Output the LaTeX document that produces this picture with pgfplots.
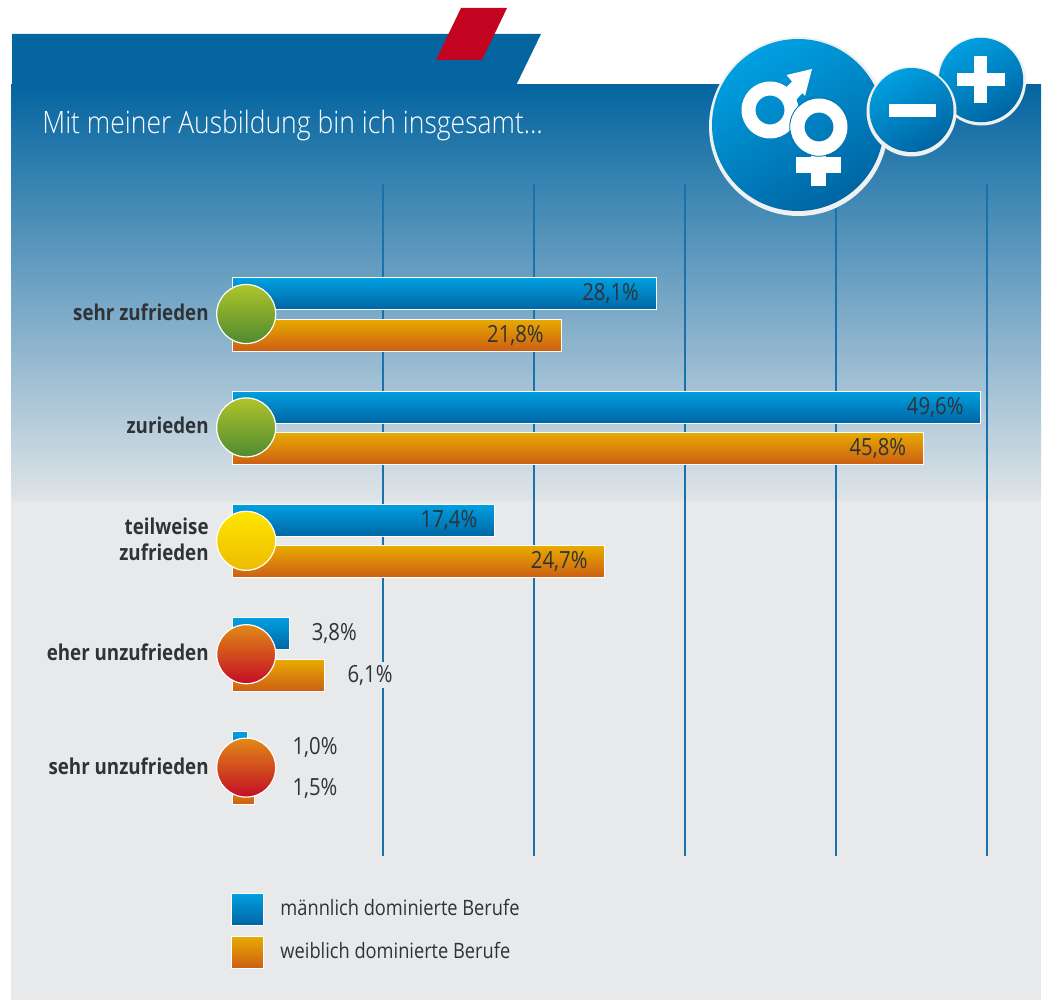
\documentclass[border=0pt]{standalone}
\usepackage{fontspec}
\usepackage{pgfplots}
\pgfplotsset{compat=1.18}
\setmainfont{Open Sans}[FakeStretch=0.86]
\newfontfamily\lightfont{Open Sans Light}[FakeStretch=0.86]
\definecolor{bgGray}{HTML}{E8E9EB}
\definecolor{hdr}{HTML}{0465A0}
\definecolor{bgLight}{HTML}{DFE4E8}
\definecolor{redTab}{HTML}{C20421}
\definecolor{gridB}{HTML}{1A72AC}
\definecolor{blueT}{HTML}{00A0E1}
\definecolor{blueB}{HTML}{0065A3}
\definecolor{oraT}{HTML}{E8AB00}
\definecolor{oraB}{HTML}{CC5E14}
\definecolor{greenT}{HTML}{AFC42A}
\definecolor{greenB}{HTML}{4F8A30}
\definecolor{yelT}{HTML}{FFE600}
\definecolor{yelB}{HTML}{EDBB00}
\definecolor{redT}{HTML}{E08A16}
\definecolor{redB}{HTML}{C30D26}
\definecolor{txt}{HTML}{2E3338}
\definecolor{rim}{HTML}{EFF0F0}
\begin{document}
\begin{tikzpicture}
\useasboundingbox (0,0) rectangle (522pt,-500pt);
\begin{scope}[x=0.5pt,y=-0.5pt]
% background
\fill[bgGray] (11,500) rectangle (1040.5,1000);
\shade[top color=hdr,bottom color=bgLight] (11,85) rectangle (1041,500);
\fill[hdr] (12,34) -- (541,34) -- (516,85.5) -- (12,85.5) -- cycle;
\fill[redTab] (461,8) -- (507,8) -- (482,60) -- (436,60) -- cycle;
% title
\node[anchor=base west,inner sep=0pt,text=white,font=\lightfont\fontsize{15.4}{18}\selectfont] at (42,134) {Mit meiner Ausbildung bin ich insgesamt…};
\end{scope}
% axis
\begin{axis}[
  at={(116pt,-428pt)},anchor=south west,
  scale only axis,width=377.5pt,height=336pt,
  xmin=0,xmax=50,ymin=-1.1464,ymax=4.7795,
  y dir=reverse,clip=false,
  axis line style={draw=none},
  major tick length=0pt,
  xtick={10,20,30,40,50},xticklabels={},
  xmajorgrids,grid style={gridB,line width=0.7pt},
  ytick={0,1,2,3,4},
  yticklabels={sehr zufrieden,zurieden,{teilweise\\zufrieden},eher unzufrieden,sehr unzufrieden},
  y tick label style={font=\bfseries\fontsize{10.9}{13}\selectfont,text=txt,align=right,anchor=east,inner sep=0pt,xshift=-11.5pt,yshift=0.8pt},
  legend style={at={(axis description cs:-0.0012,-0.054)},anchor=north west,draw=none,fill=none,inner sep=0pt,
    font=\fontsize{10.6}{12}\selectfont,text=txt,row sep=5pt,
    nodes={inner sep=0pt,anchor=west}},
  legend cell align=left,
  lbl/.style={nodes near coords={\pgfmathprintnumber[assume math mode=true,fixed,fixed zerofill,precision=1,use comma]{\pgfplotspointmeta}\%},
    point meta=x,
    every node near coord/.append style={font=\fontsize{11.8}{14}\selectfont,text=txt,inner sep=0pt}},
  bl/.style={xbar,bar width=16pt,bar shift=10.2pt,draw=white,line width=0.5pt,top color=blueT,bottom color=blueB,lbl,
    every node near coord/.append style={yshift=10.2pt}},
  or/.style={xbar,bar width=16pt,bar shift=-10.5pt,draw=white,line width=0.5pt,top color=oraT,bottom color=oraB,lbl,
    every node near coord/.append style={yshift=-10.5pt}},
  in/.style={every node near coord/.append style={anchor=east,xshift=-8.5pt}},
  out/.style={every node near coord/.append style={anchor=west,xshift=#1}},
  dot/.style n args={2}{forget plot,only marks,mark=none,point meta=x,nodes near coords={},
    every node near coord/.append style={circle,minimum size=29.5pt,inner sep=0pt,anchor=center,draw=white,line width=0.6pt,top color=#1,bottom color=#2}},
]
\addplot[bl,in,legend image code/.code={\path[draw=white,line width=0.5pt,top color=blueT,bottom color=blueB] (0pt,-8pt) rectangle (16pt,8pt);}]
 coordinates {(28.1,0)};
\addlegendentry{\hspace{8pt}männlich dominierte Berufe}
\addplot[or,in,legend image code/.code={\path[draw=white,line width=0.5pt,top color=oraT,bottom color=oraB] (0pt,-8pt) rectangle (16pt,8pt);}]
 coordinates {(21.8,0)};
\addlegendentry{\hspace{8pt}weiblich dominierte Berufe}
\addplot[forget plot,bl,in] coordinates {(49.6,1)};
\addplot[forget plot,or,in] coordinates {(45.8,1)};
\addplot[forget plot,bl,in] coordinates {(17.4,2)};
\addplot[forget plot,or,in] coordinates {(24.7,2)};
\addplot[forget plot,bl,out=11pt] coordinates {(3.8,3)};
\addplot[forget plot,or,out=10pt,every node near coord/.append style={fill=bgGray,inner sep=1.5pt}] coordinates {(6.1,3)};
\addplot[forget plot,bl,out=22.5pt] coordinates {(1.0,4)};
\addplot[forget plot,or,out=18.7pt] coordinates {(1.5,4)};
\addplot[dot={greenT}{greenB}] coordinates {(0.94,0) (0.94,1)};
\addplot[dot={yelT}{yelB}] coordinates {(0.94,2)};
\addplot[dot={redT}{redB}] coordinates {(0.94,3) (0.94,4)};
\end{axis}
% icon
\begin{scope}[x=0.5pt,y=-0.5pt]
\fill[rim] (798.5,126.5) circle[radius=89.5];
\shade[top color=blueT,bottom color=blueB,shading angle=30] (798,125) circle[radius=86];
\fill[white,even odd rule] (770,110) circle[radius=28.5] (770,110) circle[radius=14.5];
\fill[white] (812,69) -- (786.5,75) -- (792,81.5) -- (783,90.5) -- (794,102) -- (802.5,93) -- (805,96) -- cycle;
\fill[white] (811,150) rectangle (826,186);
\fill[white] (796,157) rectangle (841,173);
\draw[blueB!70!blueT,line width=0.5pt] (819,127) circle[radius=29.2];
\fill[white,even odd rule] (819,127) circle[radius=28.5] (819,127) circle[radius=14.5];
\fill[rim] (981.5,81) circle[radius=44.5];
\shade[top color=blueT,bottom color=blueB,shading angle=30] (981,80) circle[radius=42.2];
\fill[rim] (911.5,111.5) circle[radius=45];
\shade[top color=blueT,bottom color=blueB,shading angle=30] (911.5,110) circle[radius=42];
\fill[white] (888.5,104) rectangle (936,116.7);
\fill[white] (956.6,72.7) rectangle (1004.8,86);
\fill[white] (973.6,56) rectangle (987,102.7);
\end{scope}
\end{tikzpicture}
\end{document}
